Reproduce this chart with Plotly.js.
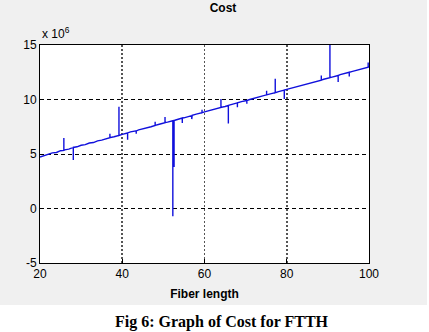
<!DOCTYPE html>
<html>
<head>
<meta charset="utf-8">
<script src="https://cdn.plot.ly/plotly-3.0.1.min.js"></script>
<style>
  html, body { margin: 0; padding: 0; background: #ffffff; }
  #chart { width: 429px; height: 332px; }
</style>
</head>
<body>
<div id="chart"></div>
<script>
// Fiber length (x) and cost in units of 1e6 (y); repeated x values are the vertical spikes
const fiberLength = [
  20, 21, 22, 23, 24, 25, 25.8, 25.8, 25.8, 26, 27, 28.1, 28.1, 28.1, 29, 30,
  31, 32, 33, 34, 35, 36, 37, 37, 37, 38, 39, 39.2, 39.2, 39.2, 40,
  41, 41.3, 41.3, 41.3, 42, 43, 43.4, 43.4, 43.4, 44, 45, 46, 47, 48, 48, 48, 49, 50,
  50.4, 50.4, 50.4, 51, 52, 52.3, 52.3, 52.3, 52.6, 52.6, 52.6, 53, 54, 54.6, 54.6, 54.6, 55,
  56, 56.9, 56.9, 56.9, 57, 58, 59, 59.4, 59.4, 59.4, 60,
  61, 62, 63, 64, 64, 64, 65, 65.8, 65.8, 65.8, 66, 67, 68, 68, 68, 69, 70,
  70.3, 70.3, 70.3, 71, 72, 73, 74, 75, 75.1, 75.1, 75.1, 76, 77, 77.2, 77.2, 77.2, 78, 79,
  79.4, 79.4, 79.4, 80,
  81, 82, 83, 84, 85, 86, 87, 88, 88.4, 88.4, 88.4, 89, 90, 90.5, 90.5, 90.5,
  91, 92, 92.5, 92.5, 92.5, 93, 94, 95, 95.2, 95.2, 95.2, 96, 97, 98, 99, 99.8, 99.8, 99.8, 100
];
const costMillions = [
  4.72, 4.86, 4.93, 5.10, 5.14, 5.30, 5.33, 6.47, 5.33, 5.38, 5.45, 5.60, 4.45, 5.60, 5.66, 5.80,
  5.86, 6.01, 6.05, 6.21, 6.27, 6.40, 6.50, 6.85, 6.50, 6.58, 6.70, 6.70, 9.34, 6.70, 6.80,
  6.90, 6.93, 6.30, 6.93, 7.03, 7.08, 7.12, 6.85, 7.12, 7.22, 7.30, 7.44, 7.50, 7.62, 7.95, 7.62, 7.73, 7.83,
  7.87, 8.40, 7.87, 7.92, 8.03, 8.05, -0.70, 8.05, 8.07, 3.80, 8.07, 8.12, 8.25, 8.30, 7.85, 8.30, 8.32,
  8.45, 8.52, 8.20, 8.52, 8.55, 8.66, 8.75, 8.78, 9.05, 8.78, 8.86,
  8.95, 9.07, 9.18, 9.28, 10.05, 9.28, 9.36, 9.45, 7.80, 9.45, 9.48, 9.60, 9.69, 9.30, 9.69, 9.80, 9.88,
  9.91, 9.60, 9.91, 10.00, 10.10, 10.22, 10.30, 10.42, 10.43, 10.80, 10.43, 10.52, 10.60, 10.62, 11.90, 10.62, 10.72, 10.82,
  10.86, 10.05, 10.86, 10.93,
  11.03, 11.14, 11.25, 11.33, 11.45, 11.55, 11.65, 11.74, 11.78, 12.20, 11.78, 11.86, 11.95, 12.00, 15.30, 12.00,
  12.05, 12.15, 12.20, 11.60, 12.20, 12.28, 12.37, 12.48, 12.50, 12.10, 12.50, 12.58, 12.68, 12.78, 12.88, 12.96, 13.40, 12.96, 13.05
];
const xTicks = [20, 40, 60, 80, 100];
const yTicks = [-5, 0, 5, 10, 15];

const trace = {
  x: fiberLength,
  y: costMillions,
  type: 'scatter',
  mode: 'lines',
  line: { color: '#1010dc', width: 1.4 },
  hoverinfo: 'skip'
};

const layout = {
  width: 429,
  height: 332,
  margin: { l: 40, r: 60, t: 45, b: 69 },
  paper_bgcolor: '#f0f0f0',
  plot_bgcolor: '#ffffff',
  showlegend: false,
  font: { family: '"Liberation Sans", Arial, sans-serif', size: 12, color: '#000000' },
  title: {
    text: '<b>Cost</b>',
    font: { family: '"Liberation Sans", Arial, sans-serif', size: 12, color: '#000000' },
    xref: 'container', yref: 'container',
    x: 223 / 429, xanchor: 'center',
    y: 1 - 8 / 332, yanchor: 'middle'
  },
  xaxis: {
    range: [20, 100],
    tickvals: xTicks,
    ticktext: xTicks.map(String),
    showline: true, mirror: true, linecolor: '#000000', linewidth: 1,
    ticks: 'inside', ticklen: 4, tickcolor: '#000000',
    showgrid: true, gridcolor: '#555555', gridwidth: 1.6, griddash: '2px,2px',
    zeroline: false,
    tickfont: { size: 12 },
    title: {
      text: '<b>Fiber length</b>',
      font: { size: 12 },
      standoff: 9
    },
    automargin: false
  },
  yaxis: {
    range: [-5, 15],
    tickvals: yTicks,
    ticktext: yTicks.map(String),
    showline: true, mirror: true, linecolor: '#000000', linewidth: 1,
    ticks: 'inside', ticklen: 4, tickcolor: '#000000',
    showgrid: true, gridcolor: '#000000', gridwidth: 1, griddash: '4px,3px',
    zeroline: false,
    tickfont: { size: 12 },
    automargin: false
  },
  shapes: [
    { type: 'rect', xref: 'paper', yref: 'paper', layer: 'below',
      x0: -0.2, x1: 1.3, y0: -0.4, y1: (263 - 305) / 218,
      fillcolor: '#ffffff', line: { width: 0 } },
    { type: 'rect', xref: 'paper', yref: 'paper', layer: 'below',
      x0: (427 - 40) / 329, x1: 1.3, y0: -0.4, y1: 1.3,
      fillcolor: '#ffffff', line: { width: 0 } }
  ],
  annotations: [
    { text: 'x 10<sup>6</sup>', xref: 'paper', yref: 'paper',
      x: 0, xanchor: 'left', y: 1 + 2 / 218, yanchor: 'bottom',
      showarrow: false, font: { size: 12 } },
    { text: '<b>Fig 6: Graph of Cost for FTTH</b>', xref: 'paper', yref: 'paper',
      x: (222.5 - 40) / 329, xanchor: 'center', y: (263 - 322) / 218, yanchor: 'middle',
      showarrow: false,
      font: { family: '"Liberation Serif", "Times New Roman", serif', size: 16, color: '#000000' } }
  ]
};

Plotly.newPlot('chart', [trace], layout, { staticPlot: true, displayModeBar: false });
</script>
</body>
</html>
